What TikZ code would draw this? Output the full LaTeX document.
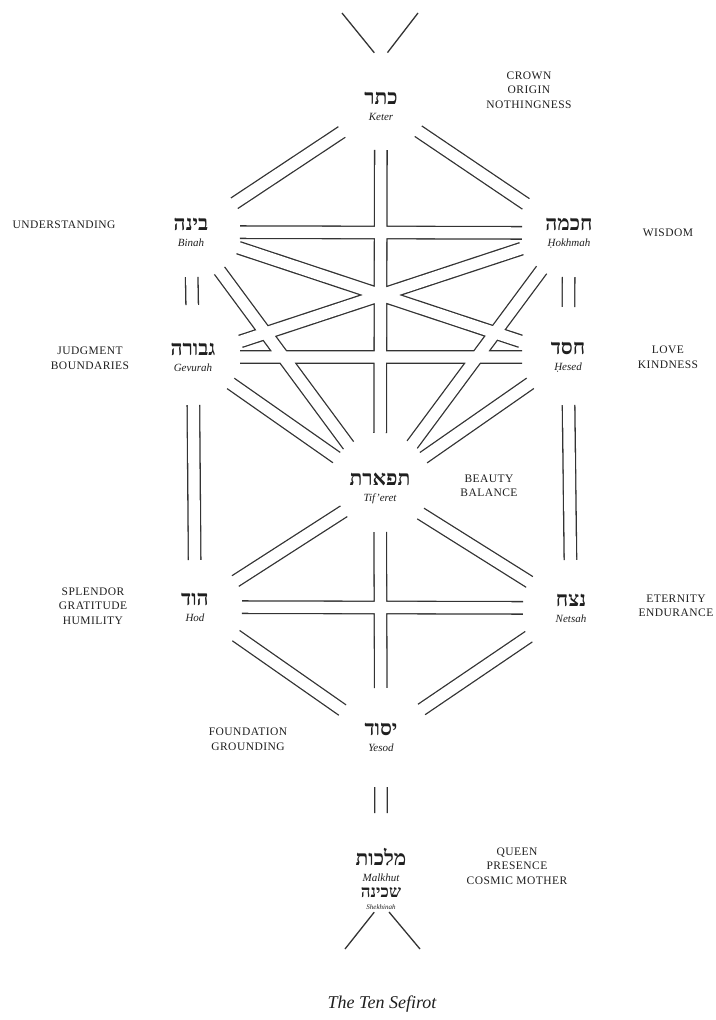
\documentclass[tikz,border=0pt]{standalone}
\usepackage{fontspec}
\setmainfont{Liberation Serif}
\newfontfamily\hebfont[Script=Hebrew]{Liberation Serif}
\newfontfamily\capsfont[LetterSpace=4]{Liberation Serif}
\TeXXeTstate=1
\usepackage{xcolor}
\definecolor{darkgrey}{rgb}{0.2,0.2,0.2}
\definecolor{inkgrey}{rgb}{0.12,0.12,0.12}
\usetikzlibrary{calc}

\newcommand{\heb}[1]{{\hebfont\upshape\bfseries\fontsize{21}{20}\selectfont\beginR #1\endR}}
\newcommand{\pipeext}{0pt}

\tikzset{
  sefira/.style={align=center, inner sep=0pt, text=inkgrey,
    font=\fontsize{11}{16}\selectfont\itshape},
  quality/.style={align=center, inner sep=0pt, text=inkgrey,
    font=\capsfont\fontsize{11.5}{14.5}\selectfont},
  pipe wall/.style={draw=darkgrey, line width=13.8pt},
  pipe bore/.style={draw=white, line width=11.2pt, pipe ext=1pt},
  pipe ext/.code={\renewcommand{\pipeext}{#1}},
  thinline/.style={draw=darkgrey, line width=1.3pt},
  channel/.style 2 args={to path={($(\tikztostart)!#1-\pipeext!(\tikztotarget)$) -- ($(\tikztotarget)!#2-\pipeext!(\tikztostart)$)}},
}

% the 22 channels between the sefirot
\newcommand{\channels}{
    (keter)   to[channel={47pt}{52pt}] (binah)
    (keter)   to[channel={45pt}{52pt}] (hokhmah)
    (keter)   to[channel={44pt}{55pt}] (tiferet)
    (binah)   to[channel={49pt}{47pt}] (hokhmah)
    (binah)   to[channel={50pt}{50pt}] (hesed)
    (hokhmah) to[channel={50pt}{50pt}] (gevurah)
    (binah)   to[channel={48pt}{53pt}] (tiferet)
    (hokhmah) to[channel={46pt}{54pt}] (tiferet)
    (binah)   to[channel={45pt}{52pt}] (gevurah)
    (hokhmah) to[channel={44pt}{50pt}] (hesed)
    (gevurah) to[channel={47pt}{46pt}] (hesed)
    (gevurah) to[channel={46pt}{53pt}] (tiferet)
    (hesed)   to[channel={46pt}{53pt}] (tiferet)
    (gevurah) to[channel={48pt}{47pt}] (hod)
    (hesed)   to[channel={48pt}{48pt}] (netsah)
    (tiferet) to[channel={43pt}{48pt}] (hod)
    (tiferet) to[channel={48pt}{49pt}] (netsah)
    (tiferet) to[channel={44pt}{49pt}] (yesod)
    (hod)     to[channel={47pt}{48pt}] (netsah)
    (hod)     to[channel={50pt}{47pt}] (yesod)
    (netsah)  to[channel={51pt}{49pt}] (yesod)
    (yesod)   to[channel={50pt}{66pt}] (malkhut)}

\begin{document}
\begin{tikzpicture}
    [x=1pt, y=-1pt]
    \useasboundingbox (0,0) rectangle (715,1020);
    % the sefirot
    \node[sefira] (keter)   at (381,106) {\heb{כתר}\\Keter};
    \node[sefira] (binah)   at (191,232) {\heb{בינה}\\Binah};
    \node[sefira] (hokhmah) at (569,233) {\heb{חכמה}\\Ḥokhmah};
    \node[sefira] (gevurah) at (193,357) {\heb{גבורה}\\Gevurah};
    \node[sefira] (hesed)   at (568,357) {\heb{חסד}\\Ḥesed};
    \node[sefira] (tiferet) at (380,488) {\heb{תפארת}\\Tif’eret};
    \node[sefira] (hod)     at (195,607) {\heb{הוד}\\Hod};
    \node[sefira] (netsah)  at (571,608) {\heb{נצח}\\Netsah};
    \node[sefira] (yesod)   at (381,737) {\heb{יסוד}\\Yesod};
    \node[sefira] (malkhut) at (381,879)
        {\heb{מלכות}\\Malkhut\\[0pt]
         {\hebfont\upshape\bfseries\fontsize{17}{12}\selectfont\beginR שכינה\endR}\\[-4pt]
         {\fontsize{7}{7}\selectfont Shekhinah}};
    % channels: walls first, then bores, so the crossings stay open
    \draw[pipe wall] \channels;
    \draw[pipe bore] \channels;
    % open ends above and below
    \coordinate (crowntip) at (381,61);
    \coordinate (crownl) at (342,13);
    \coordinate (crownr) at (418,13);
    \coordinate (roottip) at (381.5,903);
    \coordinate (rootl) at (345,949);
    \coordinate (rootr) at (420,949);
    \draw[thinline, shorten <=10.6pt] (crowntip) -- (crownl);
    \draw[thinline, shorten <=10.6pt] (crowntip) -- (crownr);
    \draw[thinline, shorten <=11.7pt] (roottip) -- (rootl);
    \draw[thinline, shorten <=11.7pt] (roottip) -- (rootr);
    % qualities
    \node[quality] (crown)         at (529,90)  {CROWN\\ORIGIN\\NOTHINGNESS};
    \node[quality] (understanding) at (64,225)  {UNDERSTANDING};
    \node[quality] (wisdom)        at (668,233) {WISDOM};
    \node[quality] (judgment)      at (90,358)  {JUDGMENT\\BOUNDARIES};
    \node[quality] (love)          at (668,357) {LOVE\\KINDNESS};
    \node[quality] (beauty)        at (489,486) {BEAUTY\\BALANCE};
    \node[quality] (splendor)      at (93,606)  {SPLENDOR\\GRATITUDE\\HUMILITY};
    \node[quality] (eternity)      at (676,606) {ETERNITY\\ENDURANCE};
    \node[quality] (foundation)    at (248,739) {FOUNDATION\\GROUNDING};
    \node[quality] (queen)         at (517,866) {QUEEN\\PRESENCE\\COSMIC MOTHER};
    % caption
    \node[text=inkgrey, font=\fontsize{18}{20}\selectfont\itshape] (caption) at (382,1004) {The Ten Sefirot};
\end{tikzpicture}
\end{document}
